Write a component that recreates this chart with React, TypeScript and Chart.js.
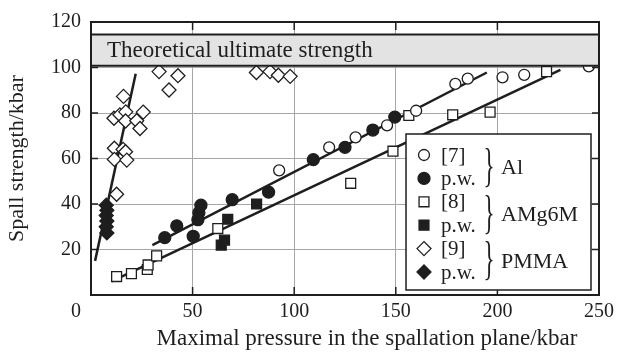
import React, { useEffect, useRef } from 'react';
import { Chart, registerables } from 'chart.js';

Chart.register(...registerables);

// ---- data ----
const xTickValues = [0, 50, 100, 150, 200, 250];
const yTickValues = [0, 20, 40, 60, 80, 100, 120];

const alRefX = [92.6, 117.2, 130.2, 145.7, 160, 179.3, 185.4, 202.5, 213.2, 245];
const alRefY = [54.8, 64.9, 69.3, 74.6, 81, 92.8, 95.1, 95.7, 96.8, 100.5];

const alPwX = [36.3, 42.2, 50.3, 52.6, 53.1, 54.1, 69.5, 87.4, 109.4, 125, 138.7, 149.5];
const alPwY = [25.2, 30.4, 25.8, 33.1, 36.2, 39.5, 41.9, 45.2, 59.5, 64.9, 72.5, 78.2];

const amgRefX = [12.6, 19.9, 27.7, 28.1, 32.3, 62.4, 127.8, 148.6, 156.4, 178, 196.4, 224.2];
const amgRefY = [8.1, 9.4, 11.2, 13.2, 17.2, 29.2, 49.1, 63.2, 78.9, 79.2, 80.4, 98.2];

const amgPwX = [64.1, 65.7, 67.3, 81.5];
const amgPwY = [21.9, 24.1, 33.3, 40];

const pmmaRefX = [16.0, 11.3, 14.2, 17.1, 17.0, 25.7, 22.5, 24.1, 11.5, 15.8, 17.0, 11.5, 17.6, 12.6, 33.5, 42.8, 38.4, 81.4, 88.1, 92.2, 98];
const pmmaRefY = [87.3, 77.7, 79.2, 80.5, 76.5, 80.4, 76.6, 73.2, 64.5, 64.0, 63.0, 59.6, 59.3, 44.3, 98.2, 96.4, 90.1, 97.8, 98.2, 96.6, 96.1];

const pmmaPwX = [7.5, 7.8, 7.5, 7.8, 7.5, 7.8];
const pmmaPwY = [39.5, 37.2, 35, 32.5, 30, 27.3];

const alFitX = [30.2, 194.8];
const alFitY = [21.9, 97.8];
const amgFitX = [10.1, 231];
const amgFitY = [6, 99];
const pmmaFitX = [2, 22];
const pmmaFitY = [15, 97.3];

const bandLow = 100.8;
const bandHigh = 114.5;
const bandText = 'Theoretical ultimate strength';

const xTitle = 'Maximal pressure in the spallation plane/kbar';
const yTitle = 'Spall strength/kbar';

const legendRows = ['[7]', 'p.w.', '[8]', 'p.w.', '[9]', 'p.w.'];
const legendGroups = ['Al', 'AMg6M', 'PMMA'];

const pts = (xs: number[], ys: number[]) => xs.map((x, i) => ({ x, y: ys[i] }));

const INK = '#1e1e1e';
const SERIF = "'Liberation Serif', 'DejaVu Serif', serif";

function drawMarker(ctx: CanvasRenderingContext2D, shape: string, filled: boolean, x: number, y: number, r: number) {
  ctx.save();
  ctx.beginPath();
  if (shape === 'circle') {
    ctx.arc(x, y, r, 0, Math.PI * 2);
  } else if (shape === 'rect') {
    const s = r * Math.SQRT1_2;
    ctx.rect(x - s, y - s, 2 * s, 2 * s);
  } else {
    ctx.moveTo(x - r, y);
    ctx.lineTo(x, y - r);
    ctx.lineTo(x + r, y);
    ctx.lineTo(x, y + r);
    ctx.closePath();
  }
  ctx.fillStyle = filled ? INK : '#fff';
  ctx.fill();
  ctx.lineWidth = 1.3;
  ctx.strokeStyle = INK;
  ctx.stroke();
  ctx.restore();
}

const decorPlugin = {
  id: 'decor',
  afterDatasetsDraw(chart: any) {
    const ctx: CanvasRenderingContext2D = chart.ctx;
    const xs = chart.scales.x;
    const ys = chart.scales.y;
    const a = chart.chartArea;

    // theoretical band
    const bt = ys.getPixelForValue(bandHigh);
    const bb = ys.getPixelForValue(bandLow);
    ctx.save();
    ctx.fillStyle = '#e3e3e3';
    ctx.fillRect(a.left, bt, a.right - a.left, bb - bt);
    ctx.strokeStyle = INK;
    ctx.lineWidth = 2;
    ctx.beginPath();
    ctx.moveTo(a.left, bt);
    ctx.lineTo(a.right, bt);
    ctx.moveTo(a.left, bb);
    ctx.lineTo(a.right, bb);
    ctx.stroke();
    ctx.fillStyle = INK;
    ctx.font = `23px ${SERIF}`;
    ctx.textBaseline = 'middle';
    ctx.textAlign = 'left';
    ctx.fillText(bandText, a.left + 16, (bt + bb) / 2 + 1);
    ctx.restore();

    // frame
    ctx.save();
    ctx.strokeStyle = INK;
    ctx.lineWidth = 2;
    ctx.strokeRect(a.left, a.top, a.right - a.left, a.bottom - a.top);
    // inward ticks
    ctx.lineWidth = 1.5;
    ctx.beginPath();
    xTickValues.forEach((v) => {
      if (v === 0 || v === 250) return;
      const px = xs.getPixelForValue(v);
      ctx.moveTo(px, a.bottom);
      ctx.lineTo(px, a.bottom - 8);
      ctx.moveTo(px, a.top);
      ctx.lineTo(px, a.top + 8);
    });
    yTickValues.forEach((v) => {
      if (v === 0 || v === 120) return;
      const py = ys.getPixelForValue(v);
      ctx.moveTo(a.left, py);
      ctx.lineTo(a.left + 7, py);
      ctx.moveTo(a.right, py);
      ctx.lineTo(a.right - 7, py);
    });
    ctx.stroke();
    ctx.restore();

    // origin label
    ctx.save();
    ctx.fillStyle = INK;
    ctx.font = `20px ${SERIF}`;
    ctx.textAlign = 'center';
    ctx.textBaseline = 'middle';
    ctx.fillText('0', a.left - 15, a.bottom + 17);
    // x title
    ctx.font = `23px ${SERIF}`;
    ctx.fillText(xTitle, 367, 339);
    ctx.restore();

    // legend
    const lx = a.right - 193;
    const ly = a.top + 112;
    const lw = 185;
    const lh = 156;
    ctx.save();
    ctx.fillStyle = '#fff';
    ctx.fillRect(lx, ly, lw, lh);
    ctx.strokeStyle = INK;
    ctx.lineWidth = 1.5;
    ctx.strokeRect(lx, ly, lw, lh);
    const shapes = ['circle', 'circle', 'rect', 'rect', 'diamond', 'diamond'];
    const sizes = [5.5, 6, 7, 7, 7, 7];
    const rowY = (i: number) => ly + 21 + i * 23.4;
    legendRows.forEach((t, i) => {
      drawMarker(ctx, shapes[i], i % 2 === 1, lx + 18, rowY(i), sizes[i]);
      ctx.fillStyle = INK;
      ctx.font = `21px ${SERIF}`;
      ctx.textAlign = 'left';
      ctx.textBaseline = 'middle';
      ctx.fillText(t, lx + 35, rowY(i) + 1);
    });
    legendGroups.forEach((g, k) => {
      const ym = (rowY(2 * k) + rowY(2 * k + 1)) / 2;
      ctx.save();
      ctx.translate(lx + 83, ym);
      ctx.scale(0.5, 1);
      ctx.font = `46px ${SERIF}`;
      ctx.textAlign = 'center';
      ctx.textBaseline = 'middle';
      ctx.fillStyle = INK;
      ctx.fillText('}', 0, 2);
      ctx.restore();
      ctx.fillStyle = INK;
      ctx.font = `22px ${SERIF}`;
      ctx.textAlign = 'left';
      ctx.textBaseline = 'middle';
      ctx.fillText(g, lx + 95, ym + 2);
    });
    ctx.restore();
  },
};

const whiteBg = {
  id: 'whiteBg',
  beforeDraw(chart: any) {
    const c = chart.ctx;
    c.save();
    c.fillStyle = '#fff';
    c.fillRect(0, 0, chart.width, chart.height);
    c.restore();
  },
};

export default function App() {
  const ref = useRef<HTMLCanvasElement | null>(null);

  useEffect(() => {
    if (!ref.current) return;
    const marker = (data: any[], shape: string, filled: boolean, r: number) => ({
      data,
      showLine: false,
      pointStyle: shape,
      pointRadius: r,
      pointBackgroundColor: filled ? INK : '#ffffff',
      pointBorderColor: INK,
      pointBorderWidth: 1.3,
      order: 1,
    });
    const fit = (data: any[]) => ({
      data,
      showLine: true,
      pointRadius: 0,
      borderColor: INK,
      borderWidth: 2.5,
      fill: false,
      order: 5,
    });
    const chart = new Chart(ref.current, {
      type: 'scatter',
      data: {
        datasets: [
          marker(pts(alRefX, alRefY), 'circle', false, 5.5),
          marker(pts(alPwX, alPwY), 'circle', true, 6),
          marker(pts(amgRefX, amgRefY), 'rect', false, 7),
          marker(pts(amgPwX, amgPwY), 'rect', true, 7),
          marker(pts(pmmaRefX, pmmaRefY), 'rectRot', false, 7),
          marker(pts(pmmaPwX, pmmaPwY), 'rectRot', true, 7),
          fit(pts(alFitX, alFitY)),
          fit(pts(amgFitX, amgFitY)),
          fit(pts(pmmaFitX, pmmaFitY)),
        ] as any,
      },
      options: {
        animation: false,
        responsive: false,
        layout: { padding: { left: 0, right: 18, top: 17, bottom: 0 } },
        plugins: { legend: { display: false }, tooltip: { enabled: false } },
        scales: {
          x: {
            type: 'linear',
            min: 0,
            max: 250,
            afterFit: (s: any) => { s.height = 61; },
            afterBuildTicks: (s: any) => { s.ticks = xTickValues.map((v) => ({ value: v })); },
            ticks: {
              callback: (v: any) => (v === 0 ? '' : String(v)),
              font: { family: SERIF, size: 20 },
              color: INK,
              padding: 5,
              maxRotation: 0,
            },
            grid: { color: '#a6a6a6', lineWidth: 1, drawTicks: false },
            border: { display: true, color: INK, width: 2 },
          },
          y: {
            type: 'linear',
            min: 0,
            max: 120,
            afterFit: (s: any) => { s.width = 91; },
            afterBuildTicks: (s: any) => { s.ticks = yTickValues.map((v) => ({ value: v })); },
            ticks: {
              callback: (v: any) => (v === 0 ? '' : String(v)),
              font: { family: SERIF, size: 20 },
              color: INK,
              padding: 10,
            },
            grid: { color: '#a6a6a6', lineWidth: 1, drawTicks: false },
            border: { display: true, color: INK, width: 2 },
            title: {
              display: true,
              text: yTitle,
              font: { family: SERIF, size: 22 },
              color: INK,
              padding: { top: 4, bottom: 0 },
            },
          },
        },
      },
      plugins: [whiteBg, decorPlugin],
    } as any);
    return () => chart.destroy();
  }, []);

  return (
    <div style={{ position: 'absolute', left: 0, top: 0, width: 619, height: 356, background: '#fff' }}>
      <canvas ref={ref} width={619} height={356} style={{ width: 619, height: 356, display: 'block' }} />
    </div>
  );
}
